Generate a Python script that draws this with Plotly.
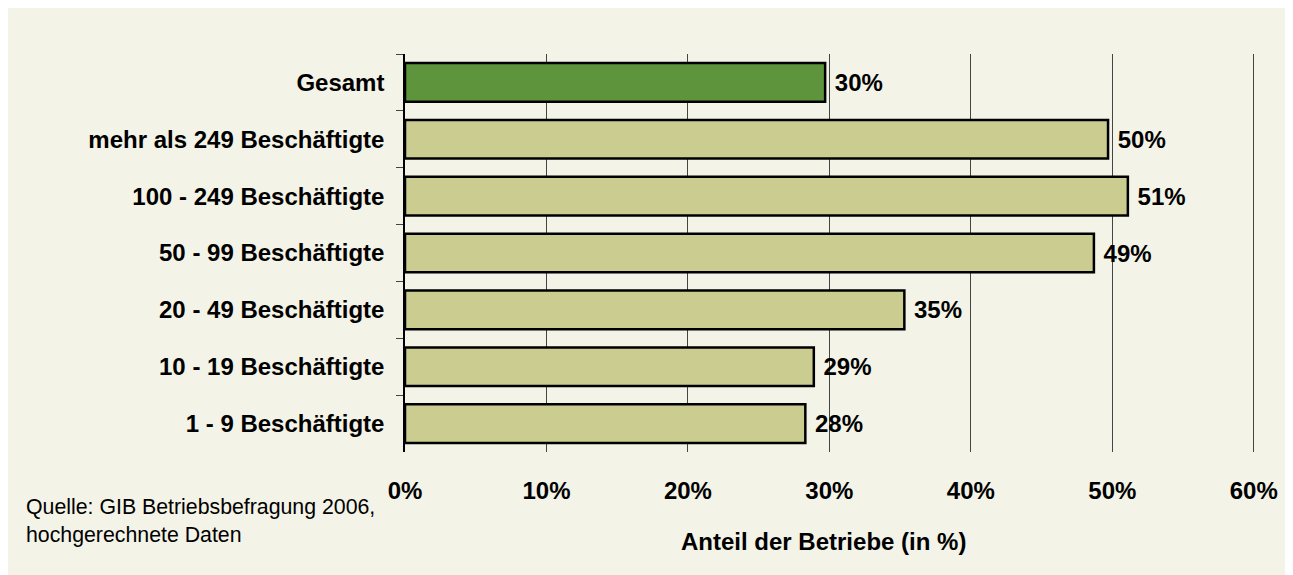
import plotly.graph_objects as go

categories = [
    "Gesamt",
    "mehr als 249 Beschäftigte",
    "100 - 249 Beschäftigte",
    "50 - 99 Beschäftigte",
    "20 - 49 Beschäftigte",
    "10 - 19 Beschäftigte",
    "1 - 9 Beschäftigte",
]
values = [29.7, 49.7, 51.1, 48.7, 35.3, 28.9, 28.3]
x_ticks = [0, 10, 20, 30, 40, 50, 60]
x_tick_labels = [f"{v}%" for v in x_ticks]
x_title = "Anteil der Betriebe (in %)"
source_text = "Quelle: GIB Betriebsbefragung 2006,<br>hochgerechnete Daten"

CREAM = "#F3F3E7"
DARK_GREEN = "#5E943C"
OLIVE = "#CACD8F"
FONT = "Arial, Liberation Sans, sans-serif"

colors = [DARK_GREEN if c == "Gesamt" else OLIVE for c in categories]

X_MAX = 60.3
W, H = 1284, 570
L, T, PH = 396.5, 46, 398
PW = 849.2 * X_MAX / 60
R = W - L - PW
B = H - T - PH

fig = go.Figure(
    go.Bar(
        x=values,
        y=categories,
        orientation="h",
        marker=dict(color=colors, line=dict(color="black", width=2.5)),
        texttemplate="\u00a0%{x:.0f}%",
        textposition="outside",
        textfont=dict(family=FONT, size=24, color="black", weight="bold"),
        cliponaxis=False,
        width=0.68,
    )
)

fig.update_layout(
    width=W,
    height=H,
    margin=dict(l=L, r=R, t=T, b=B, pad=0),
    paper_bgcolor=CREAM,
    plot_bgcolor=CREAM,
    showlegend=False,
    font=dict(family=FONT, color="black"),
)

fig.update_xaxes(
    range=[0, X_MAX],
    tickvals=x_ticks,
    ticktext=x_tick_labels,
    tickfont=dict(family=FONT, size=24, color="black", weight="bold"),
    showgrid=True,
    gridcolor="#444444",
    gridwidth=1,
    zeroline=False,
    showline=False,
    ticks="",
    ticklabelstandoff=22,
)

fig.update_yaxes(
    autorange="reversed",
    tickfont=dict(family=FONT, size=24, color="black", weight="bold"),
    showline=True,
    linecolor="black",
    linewidth=1.5,
    ticks="outside",
    tickson="boundaries",
    ticklen=7,
    tickcolor="#444444",
    tickwidth=1,
    ticklabelstandoff=14,
    showgrid=False,
)

fig.add_annotation(
    text=x_title,
    xref="paper", yref="paper",
    x=(823 - 8 - L) / PW, y=-(541 - 8 - (T + PH)) / PH,
    xanchor="center", yanchor="middle",
    showarrow=False,
    font=dict(family=FONT, size=24, color="black", weight="bold"),
)

fig.add_annotation(
    text=source_text,
    xref="paper", yref="paper",
    x=(23 - 8 - L) / PW, y=-(493 - 8 - (T + PH)) / PH,
    xanchor="left", yanchor="top", align="left",
    showarrow=False,
    font=dict(family=FONT, size=21.3, color="black"),
)

fig.write_html("out.html")
